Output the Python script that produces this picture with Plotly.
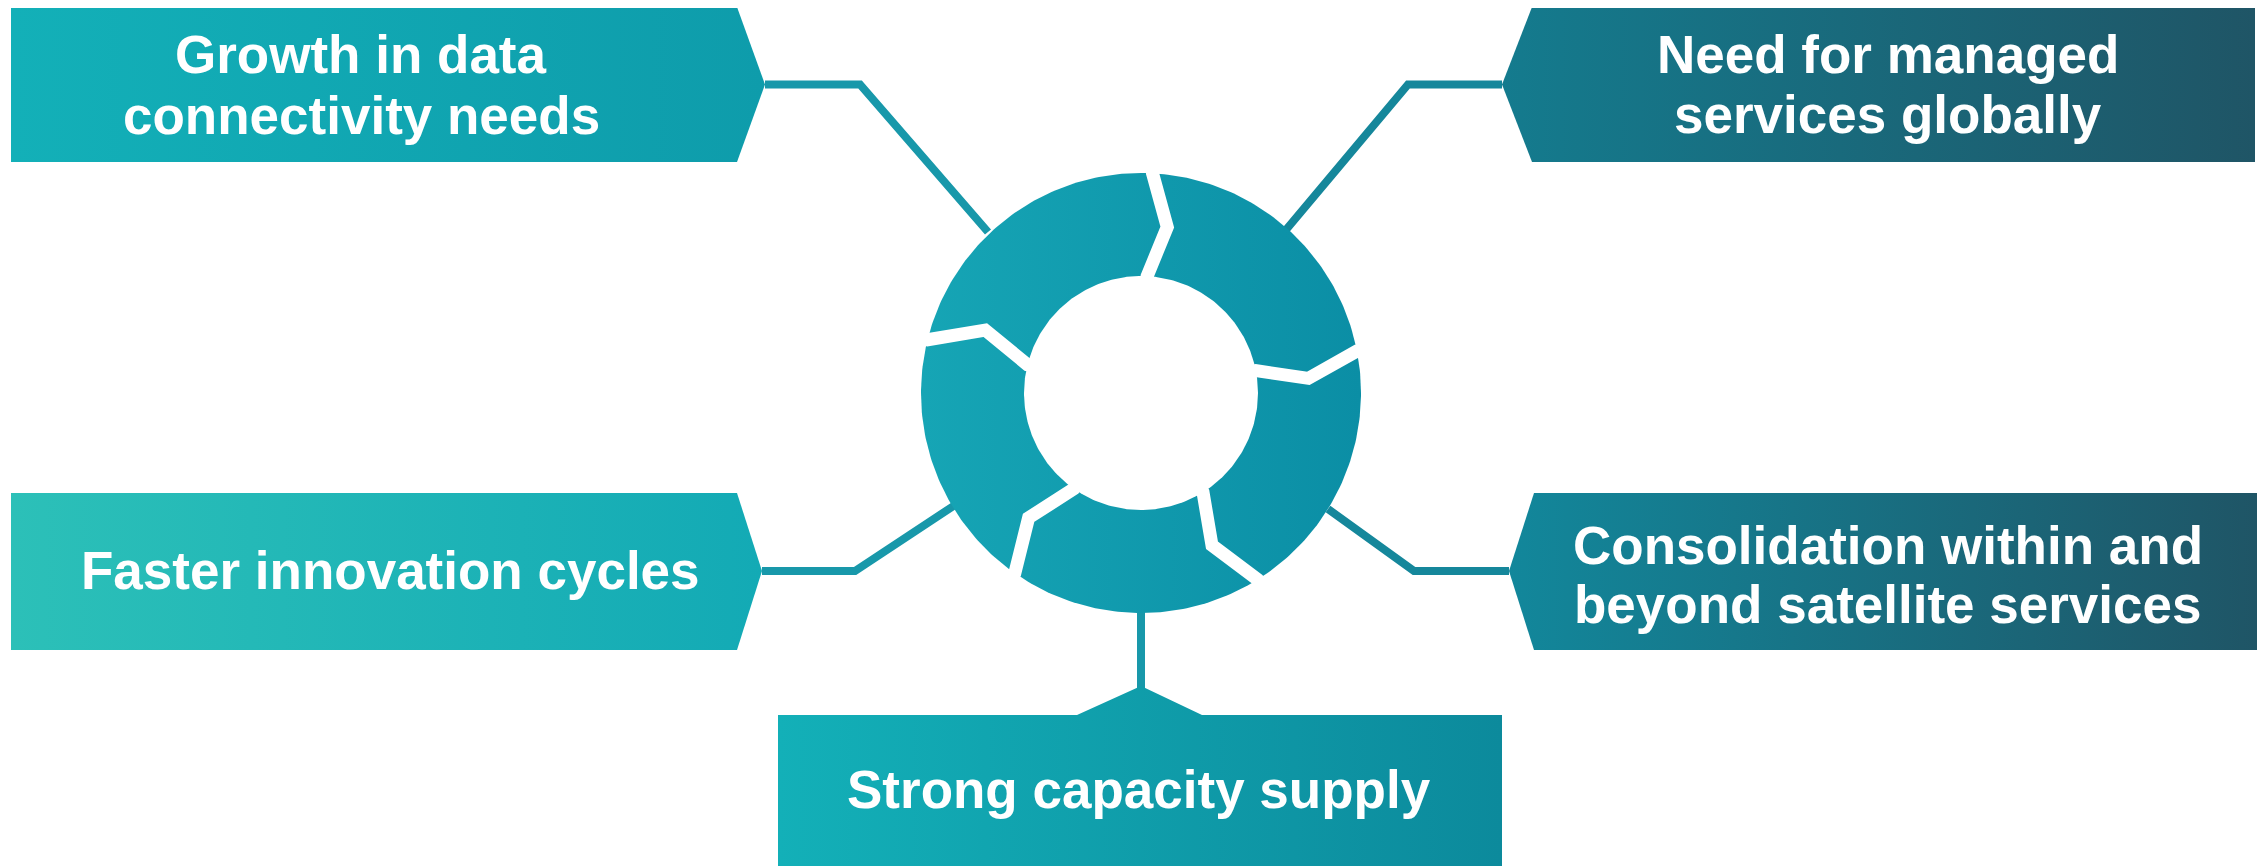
import numpy as np
import plotly.graph_objects as go

# ---- content ----
labels = [
    "Growth in data\nconnectivity needs",
    "Need for managed\nservices globally",
    "Faster innovation cycles",
    "Consolidation within and\nbeyond satellite services",
    "Strong capacity supply",
]
# horizontal gradient colours of each label box (left -> right)
box_left_colors = ["#13b0b8", "#147b8e", "#2cc0b8", "#12879b", "#13b0b8"]
box_right_colors = ["#0e9cab", "#1f5566", "#13aab5", "#1f5566", "#0c8a9c"]
line_colors = ["#1898aa", "#15879b", "#1898aa", "#15879b", "#1898aa"]

W, H = 2265, 866
PAGE_MARGIN = 8  # default body margin of the html page

# ---- geometry (page pixel space, y downward) ----
box_polys = [
    [(11, 7), (737, 7), (765, 84.5), (737, 162), (11, 162)],
    [(1532, 7), (2255, 7), (2255, 162), (1532, 162), (1502, 84.5)],
    [(11, 493), (737, 493), (762, 571), (737, 650), (11, 650)],
    [(1534, 493), (2257, 493), (2257, 650), (1534, 650), (1509, 571)],
    [(778, 715), (1077, 715), (1141, 686), (1202, 715), (1502, 715), (1502, 900), (778, 900)],
]
text_pos = [
    (361, [54, 115]),
    (1888, [54, 114]),
    (390, [570]),
    (1888, [545, 604]),
    (1139, [789]),
]
connectors = [
    [(765, 84.5), (860, 84.5), (988, 232)],
    [(1502, 84.5), (1408, 84.5), (1285, 231)],
    [(762, 571), (855, 571), (955, 505)],
    [(1509, 571), (1414, 571), (1328, 509)],
    [(1141, 600), (1141, 692)],
]

CX, CY = 1141, 393
R_OUT, R_IN, R_MID = 220, 117, 168
gap_base = [87, 11, -58, 235, 166]
gap_tip = [81, 5, -65, 228, 158]


def pt(r, a_deg):
    a = np.deg2rad(a_deg)
    return CX + r * np.cos(a), CY - r * np.sin(a)


fig = go.Figure()

# connectors
for pts, col in zip(connectors, line_colors):
    fig.add_trace(go.Scatter(
        x=[p[0] for p in pts], y=[p[1] for p in pts], mode="lines",
        line=dict(color=col, width=8), hoverinfo="skip", showlegend=False))

# boxes with gradient fill
for poly, c0, c1 in zip(box_polys, box_left_colors, box_right_colors):
    xs = [p[0] for p in poly] + [poly[0][0]]
    ys = [p[1] for p in poly] + [poly[0][1]]
    fig.add_trace(go.Scatter(
        x=xs, y=ys, mode="lines", line=dict(width=0), fill="toself",
        fillgradient=dict(type="horizontal", colorscale=[[0, c0], [1, c1]],
                          start=min(xs), stop=max(xs)),
        hoverinfo="skip", showlegend=False))

# ring disc
t = np.linspace(0, 360, 361)
ox = [pt(R_OUT, a)[0] for a in t]
oy = [pt(R_OUT, a)[1] for a in t]
fig.add_trace(go.Scatter(
    x=ox, y=oy, mode="lines", line=dict(width=0), fill="toself",
    fillgradient=dict(type="horizontal", colorscale=[[0, "#16a5b5"], [1, "#0b8ea5"]],
                      start=CX - R_OUT, stop=CX + R_OUT),
    hoverinfo="skip", showlegend=False))
# hole
ix = [pt(R_IN, a)[0] for a in t]
iy = [pt(R_IN, a)[1] for a in t]
fig.add_trace(go.Scatter(
    x=ix, y=iy, mode="lines", line=dict(width=0), fill="toself",
    fillcolor="white", hoverinfo="skip", showlegend=False))

# chevron gaps
for b, tp in zip(gap_base, gap_tip):
    pts = [pt(R_IN - 12, b), pt(R_IN, b), pt(R_MID, tp), pt(R_OUT, b), pt(R_OUT + 12, b)]
    fig.add_trace(go.Scatter(
        x=[p[0] for p in pts], y=[p[1] for p in pts], mode="lines",
        line=dict(color="white", width=13), hoverinfo="skip", showlegend=False))

# texts
for lab, (tx, tys) in zip(labels, text_pos):
    for line, ty in zip(lab.split("\n"), tys):
        fig.add_annotation(
            x=tx, y=ty, text="<b>" + line + "</b>", showarrow=False,
            xanchor="center", yanchor="middle",
            font=dict(family="Liberation Sans, Arial, sans-serif", size=53, color="white"))

fig.update_layout(
    width=W - PAGE_MARGIN, height=H - PAGE_MARGIN,
    margin=dict(l=0, r=0, t=0, b=0),
    paper_bgcolor="white", plot_bgcolor="white",
    xaxis=dict(range=[PAGE_MARGIN, W], visible=False, fixedrange=True),
    yaxis=dict(range=[H, PAGE_MARGIN], visible=False, fixedrange=True),
    showlegend=False,
)

fig.write_html("out.html")
